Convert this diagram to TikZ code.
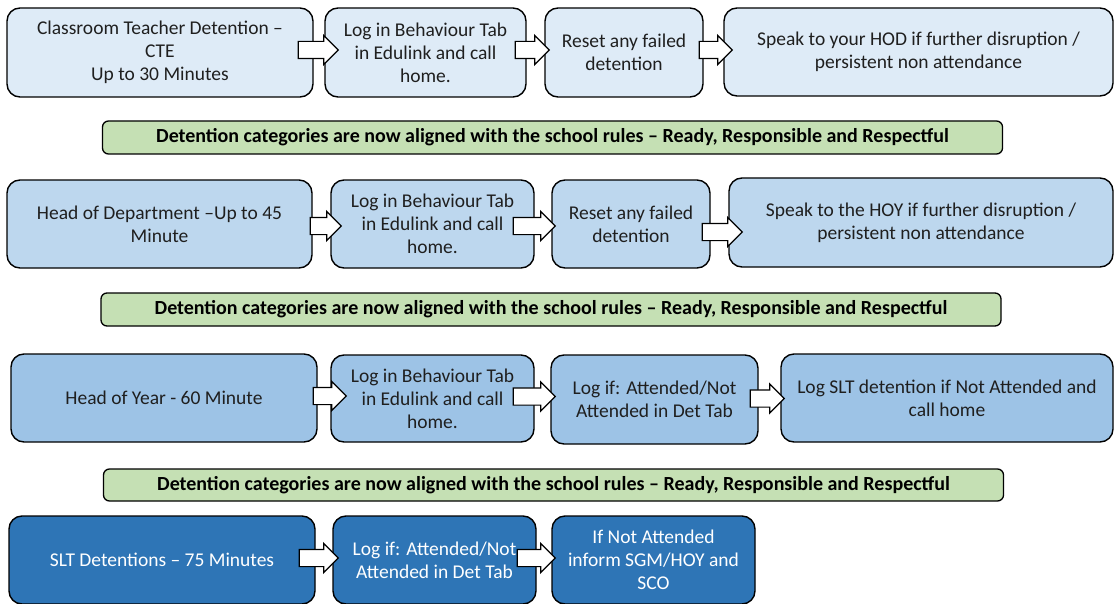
\documentclass[tikz,border=0pt]{standalone}
\usepackage{fontspec}
\setmainfont{Carlito}
\usetikzlibrary{shapes.arrows}
\definecolor{cA}{HTML}{DEEBF7}
\definecolor{cB}{HTML}{BDD7EE}
\definecolor{cC}{HTML}{9DC3E6}
\definecolor{cD}{HTML}{2E75B6}
\definecolor{cG}{HTML}{C5E0B4}
\begin{document}
\begin{tikzpicture}[x=1pt,y=-1pt,
  box/.style={draw=black, line width=1.4pt, rounded corners=13pt, align=center,
    inner sep=0pt, font=\fontsize{19.5}{23}\selectfont, text=black!88},
  banner/.style={draw=black, line width=1.3pt, rounded corners=6pt, fill=cG,
    inner sep=0pt, minimum width=900pt, minimum height=33pt,
    font=\fontsize{20}{21}\selectfont\bfseries},
  blk/.style={single arrow, draw=black, fill=white, line width=1.2pt,
    inner xsep=0pt, inner ysep=8pt,
    minimum width=28pt, single arrow head extend=6pt, anchor=tail}
]
\useasboundingbox (0,0) rectangle (1115,604);

% Row 1
\node[box, fill=cA, minimum width=306pt, minimum height=89pt] (a1) at (160,52.5) {Classroom Teacher Detention --\\CTE\\Up to 30 Minutes};
\node[box, fill=cA, minimum width=201pt, minimum height=89pt] (a2) at (425.5,52.5) {Log in Behaviour Tab\\in Edulink and call\\home.};
\node[box, fill=cA, minimum width=158pt, minimum height=89pt] (a3) at (624,52.5) {Reset any failed\\detention};
\node[box, fill=cA, minimum width=389pt, minimum height=88pt] (a4) at (918.5,52) {Speak to your HOD if further disruption /\\persistent non attendance};
\node[blk, minimum height=40pt] (p1) at ([xshift=-16pt,yshift=2.5pt]a1.east) {};
\node[blk, minimum height=34pt] (p2) at ([xshift=-12pt,yshift=2.5pt]a2.east) {};
\node[blk, minimum height=33pt] (p3) at ([xshift=-5pt,yshift=2.5pt]a3.east) {};

\node[banner] (g1) at (552.5,137.5) {Detention categories are now aligned with the school rules -- Ready, Responsible and Respectful};

% Row 2
\node[box, fill=cB, minimum width=305pt, minimum height=88pt] (b1) at (159.5,224) {Head of Department --Up to 45\\Minute};
\node[box, fill=cB, minimum width=203pt, minimum height=88pt] (b2) at (432.5,224) {Log in Behaviour Tab\\in Edulink and call\\home.};
\node[box, fill=cB, minimum width=158pt, minimum height=88pt] (b3) at (631,224) {Reset any failed\\detention};
\node[box, fill=cB, minimum width=384pt, minimum height=89pt] (b4) at (921,222.5) {Speak to the HOY if further disruption /\\persistent non attendance};
\node[blk, minimum height=31pt] (q1) at ([xshift=-3pt,yshift=-2pt]b1.east) {};
\node[blk, minimum height=42pt] (q2) at ([xshift=-22pt,yshift=-2pt]b2.east) {};
\node[blk, minimum height=40pt] (q3) at ([xshift=-9pt,yshift=-8pt]b3.east) {};

\node[banner] (g2) at (551,309.5) {Detention categories are now aligned with the school rules -- Ready, Responsible and Respectful};

% Row 3
\node[box, fill=cC, minimum width=306pt, minimum height=88pt] (c1) at (164,398) {Head of Year - 60 Minute};
\node[box, fill=cC, minimum width=203pt, minimum height=87pt] (c2) at (432.5,398.5) {Log in Behaviour Tab\\in Edulink and call\\home.};
\node[box, fill=cC, minimum width=207pt, minimum height=89pt] (c3) at (654.5,399.5) {Log if: Attended/Not\\Attended in Det Tab};
\node[box, fill=cC, minimum width=332pt, minimum height=88pt] (c4) at (947,398) {Log SLT detention if Not Attended and\\call home};
\node[blk, minimum height=33pt] (r1) at ([xshift=-5pt,yshift=2pt]c1.east) {};
\node[blk, minimum height=42pt] (r2) at ([xshift=-22pt,yshift=2pt]c2.east) {};
\node[blk, minimum height=34pt] (r3) at ([xshift=-9pt,yshift=1pt]c3.east) {};

\node[banner, minimum height=32pt] (g3) at (553.5,485) {Detention categories are now aligned with the school rules -- Ready, Responsible and Respectful};

% Row 4
\node[box, fill=cD, text=white, minimum width=306pt, minimum height=88pt] (d1) at (162,560) {SLT Detentions -- 75 Minutes};
\node[box, fill=cD, text=white, minimum width=203pt, minimum height=88pt] (d2) at (434.5,560) {Log if: Attended/Not\\Attended in Det Tab};
\node[box, fill=cD, text=white, minimum width=203pt, minimum height=88pt] (d3) at (653.5,560) {If Not Attended\\inform SGM/HOY and\\SCO};
\node[blk, minimum height=39pt] (s1) at ([xshift=-17pt,yshift=2pt]d1.east) {};
\node[blk, minimum height=38pt] (s2) at ([xshift=-20pt,yshift=2pt]d2.east) {};
\end{tikzpicture}
\end{document}
